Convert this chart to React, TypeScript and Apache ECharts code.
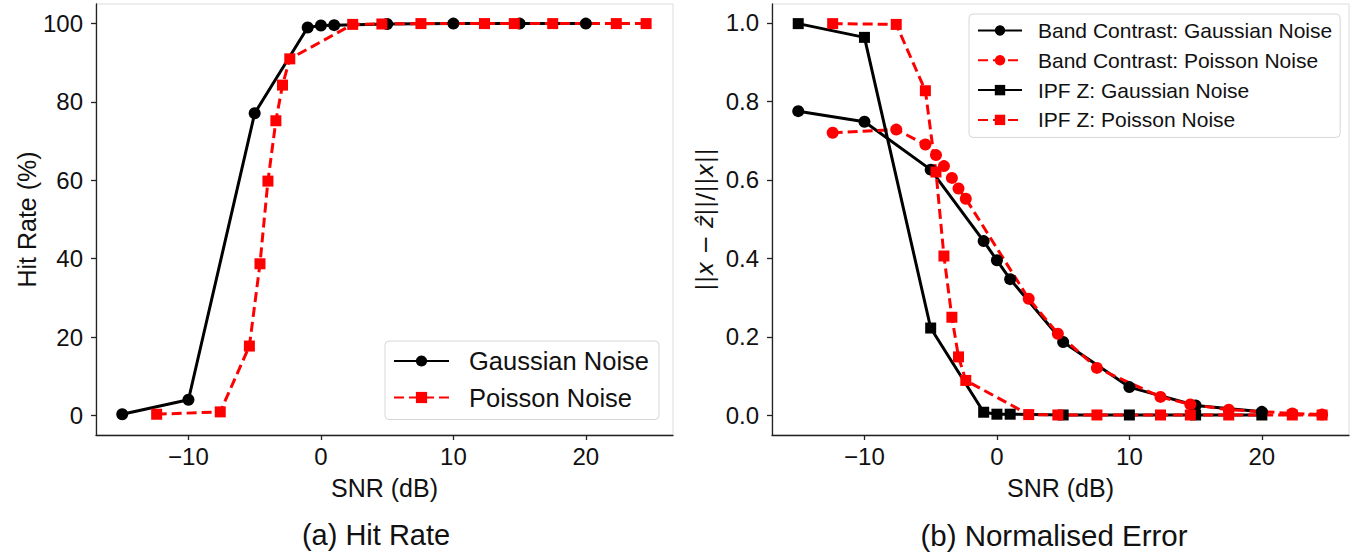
import React, { useEffect, useRef } from "react";
import * as echarts from "echarts";

// ---- data ----
const gaussSNR = [-15, -10, -5, -1, 0, 1, 5, 10, 15, 20];
const poisSNR = [-12.4, -7.6, -5.4, -4.6, -4.0, -3.4, -2.9, -2.35, 2.4, 4.6, 7.55, 12.35, 14.6, 17.5, 22.3, 24.55];

const hitGauss = [0.3, 4.0, 77.1, 99.0, 99.5, 99.6, 99.9, 100, 100, 100];
const hitPois = [0.3, 0.9, 17.7, 38.7, 59.8, 75.2, 84.3, 91.0, 99.8, 99.9, 100, 100, 100, 100, 100, 100];

const bcGauss = [0.775, 0.748, 0.626, 0.444, 0.395, 0.347, 0.187, 0.072, 0.025, 0.009];
const bcPois = [0.72, 0.728, 0.69, 0.663, 0.635, 0.605, 0.578, 0.552, 0.297, 0.208, 0.121, 0.047, 0.028, 0.0145, 0.005, 0.002];
const ipfGauss = [0.998, 0.963, 0.2225, 0.008, 0.003, 0.003, 0.001, 0.001, 0.001, 0.001];
const ipfPois = [0.998, 0.996, 0.827, 0.62, 0.406, 0.25, 0.149, 0.089, 0.002, 0.001, 0.001, 0.001, 0.001, 0.001, 0.001, 0.001];

const xTicks = [-10, 0, 10, 20];
const hitTicks = [0, 20, 40, 60, 80, 100];
const errTicks = [0, 0.2, 0.4, 0.6, 0.8, 1.0];

const pair = (xs: number[], ys: number[]) => xs.map((x, i) => [x, ys[i]]);

const FONT = "'Liberation Sans', Arial, sans-serif";
const MATH_FONT = "'DejaVu Sans', sans-serif";
const AXIS_COLOR = "#222";

function xAxisCfg(gridIndex: number) {
  return {
    type: "value",
    gridIndex,
    min: -16.98,
    max: 26.58,
    name: "SNR (dB)",
    nameLocation: "middle",
    nameGap: 40,
    nameTextStyle: { fontFamily: FONT, fontSize: 25, color: "#111" },
    axisLine: { show: true, onZero: false, lineStyle: { color: AXIS_COLOR, width: 1.3 } },
    axisTick: { show: true, length: 5, customValues: xTicks, lineStyle: { color: AXIS_COLOR, width: 1.3 } },
    axisLabel: {
      customValues: xTicks,
      margin: 9,
      fontFamily: FONT,
      fontSize: 24,
      color: "#111",
      formatter: (v: number) => (v < 0 ? "\u2212" + Math.abs(v) : String(v)),
    },
    splitLine: { show: false },
  };
}

export default function App() {
  const ref = useRef<HTMLDivElement>(null);
  useEffect(() => {
    if (!ref.current) return;
    const chart = echarts.init(ref.current, undefined, { renderer: "svg" });
    const blackSolid = { color: "#000", width: 3, type: "solid" };
    const redDashed = { color: "#ff0000", width: 3, type: [10, 5] };
    chart.setOption({
      animation: false,
      backgroundColor: "#fff",
      grid: [
        { left: 96, top: 4, width: 577, height: 431, show: true, borderColor: "#dddddd", borderWidth: 1 },
        { left: 772, top: 4, width: 577, height: 431, show: true, borderColor: "#dddddd", borderWidth: 1 },
      ],
      xAxis: [xAxisCfg(0), xAxisCfg(1)],
      yAxis: [
        {
          type: "value",
          gridIndex: 0,
          min: -5,
          max: 105,
          name: "Hit Rate (%)",
          nameLocation: "middle",
          nameGap: 57,
          nameTextStyle: { fontFamily: FONT, fontSize: 25, color: "#111" },
          axisLine: { show: true, onZero: false, lineStyle: { color: AXIS_COLOR, width: 1.3 } },
          axisTick: { show: true, length: 5, customValues: hitTicks, lineStyle: { color: AXIS_COLOR, width: 1.3 } },
          axisLabel: { customValues: hitTicks, margin: 13, fontFamily: FONT, fontSize: 24, color: "#111" },
          splitLine: { show: false },
        },
        {
          type: "value",
          gridIndex: 1,
          min: -0.05,
          max: 1.048,
          name: "{n|||}{i|x}{n| \u2212 }{i|\u1E91}{n|||/||}{i|x}{n|||}",
          nameLocation: "middle",
          nameGap: 56,
          nameTextStyle: {
            fontFamily: MATH_FONT,
            fontSize: 23,
            color: "#111",
            rich: {
              n: { fontFamily: MATH_FONT, fontSize: 23, color: "#111" },
              i: { fontFamily: MATH_FONT, fontStyle: "italic", fontSize: 23, color: "#111" },
            },
          },
          axisLine: { show: true, onZero: false, lineStyle: { color: AXIS_COLOR, width: 1.3 } },
          axisTick: { show: true, length: 5, customValues: errTicks, lineStyle: { color: AXIS_COLOR, width: 1.3 } },
          axisLabel: {
            customValues: errTicks,
            margin: 13,
            fontFamily: FONT,
            fontSize: 24,
            color: "#111",
            formatter: (v: number) => v.toFixed(1),
          },
          splitLine: { show: false },
        },
      ],
      legend: [
        {
          orient: "vertical",
          left: 385,
          top: 341,
          padding: [7, 10, 9, 8],
          itemGap: 10.5,
          itemWidth: 55,
          itemHeight: 14,
          borderColor: "#d6d6d6",
          borderWidth: 1,
          borderRadius: 4,
          backgroundColor: "#fff",
          data: ["Gaussian Noise", "Poisson Noise"],
          textStyle: { fontFamily: FONT, fontSize: 25.5, color: "#111", lineHeight: 26, padding: [0, 0, 0, 15] },
        },
        {
          orient: "vertical",
          left: 969,
          top: 14,
          padding: [6, 8, 7, 8],
          itemGap: 8.8,
          itemWidth: 44,
          itemHeight: 13,
          borderColor: "#d6d6d6",
          borderWidth: 1,
          borderRadius: 4,
          backgroundColor: "#fff",
          data: [
            "Band Contrast: Gaussian Noise",
            "Band Contrast: Poisson Noise",
            "IPF Z: Gaussian Noise",
            "IPF Z: Poisson Noise",
          ],
          textStyle: { fontFamily: FONT, fontSize: 21, color: "#111", lineHeight: 20, padding: [0, 0, 0, 11] },
        },
      ],
      graphic: [
        {
          type: "text",
          x: 376,
          y: 535,
          style: { text: "(a) Hit Rate", fontFamily: FONT, fontSize: 29, fill: "#111", align: "center", verticalAlign: "middle" },
        },
        {
          type: "text",
          x: 1054,
          y: 535,
          style: { text: "(b) Normalised Error", fontFamily: FONT, fontSize: 29.5, fill: "#111", align: "center", verticalAlign: "middle" },
        },
      ],
      series: [
        {
          name: "Gaussian Noise",
          type: "line",
          xAxisIndex: 0,
          yAxisIndex: 0,
          data: pair(gaussSNR, hitGauss),
          symbol: "circle",
          symbolSize: 12,
          itemStyle: { color: "#000" },
          lineStyle: blackSolid,
        },
        {
          name: "Poisson Noise",
          type: "line",
          xAxisIndex: 0,
          yAxisIndex: 0,
          data: pair(poisSNR, hitPois),
          symbol: "rect",
          symbolSize: 11,
          itemStyle: { color: "#ff0000" },
          lineStyle: redDashed,
        },
        {
          name: "Band Contrast: Gaussian Noise",
          type: "line",
          xAxisIndex: 1,
          yAxisIndex: 1,
          data: pair(gaussSNR, bcGauss),
          symbol: "circle",
          symbolSize: 12,
          itemStyle: { color: "#000" },
          lineStyle: blackSolid,
        },
        {
          name: "Band Contrast: Poisson Noise",
          type: "line",
          xAxisIndex: 1,
          yAxisIndex: 1,
          data: pair(poisSNR, bcPois),
          symbol: "circle",
          symbolSize: 12,
          itemStyle: { color: "#ff0000" },
          lineStyle: redDashed,
        },
        {
          name: "IPF Z: Gaussian Noise",
          type: "line",
          xAxisIndex: 1,
          yAxisIndex: 1,
          data: pair(gaussSNR, ipfGauss),
          symbol: "rect",
          symbolSize: 11,
          itemStyle: { color: "#000" },
          lineStyle: blackSolid,
        },
        {
          name: "IPF Z: Poisson Noise",
          type: "line",
          xAxisIndex: 1,
          yAxisIndex: 1,
          data: pair(poisSNR, ipfPois),
          symbol: "rect",
          symbolSize: 11,
          itemStyle: { color: "#ff0000" },
          lineStyle: redDashed,
        },
      ],
    });
    return () => chart.dispose();
  }, []);
  return (
    <div
      ref={ref}
      style={{ position: "absolute", left: 0, top: 0, width: 1356, height: 554, background: "#fff" }}
    />
  );
}
